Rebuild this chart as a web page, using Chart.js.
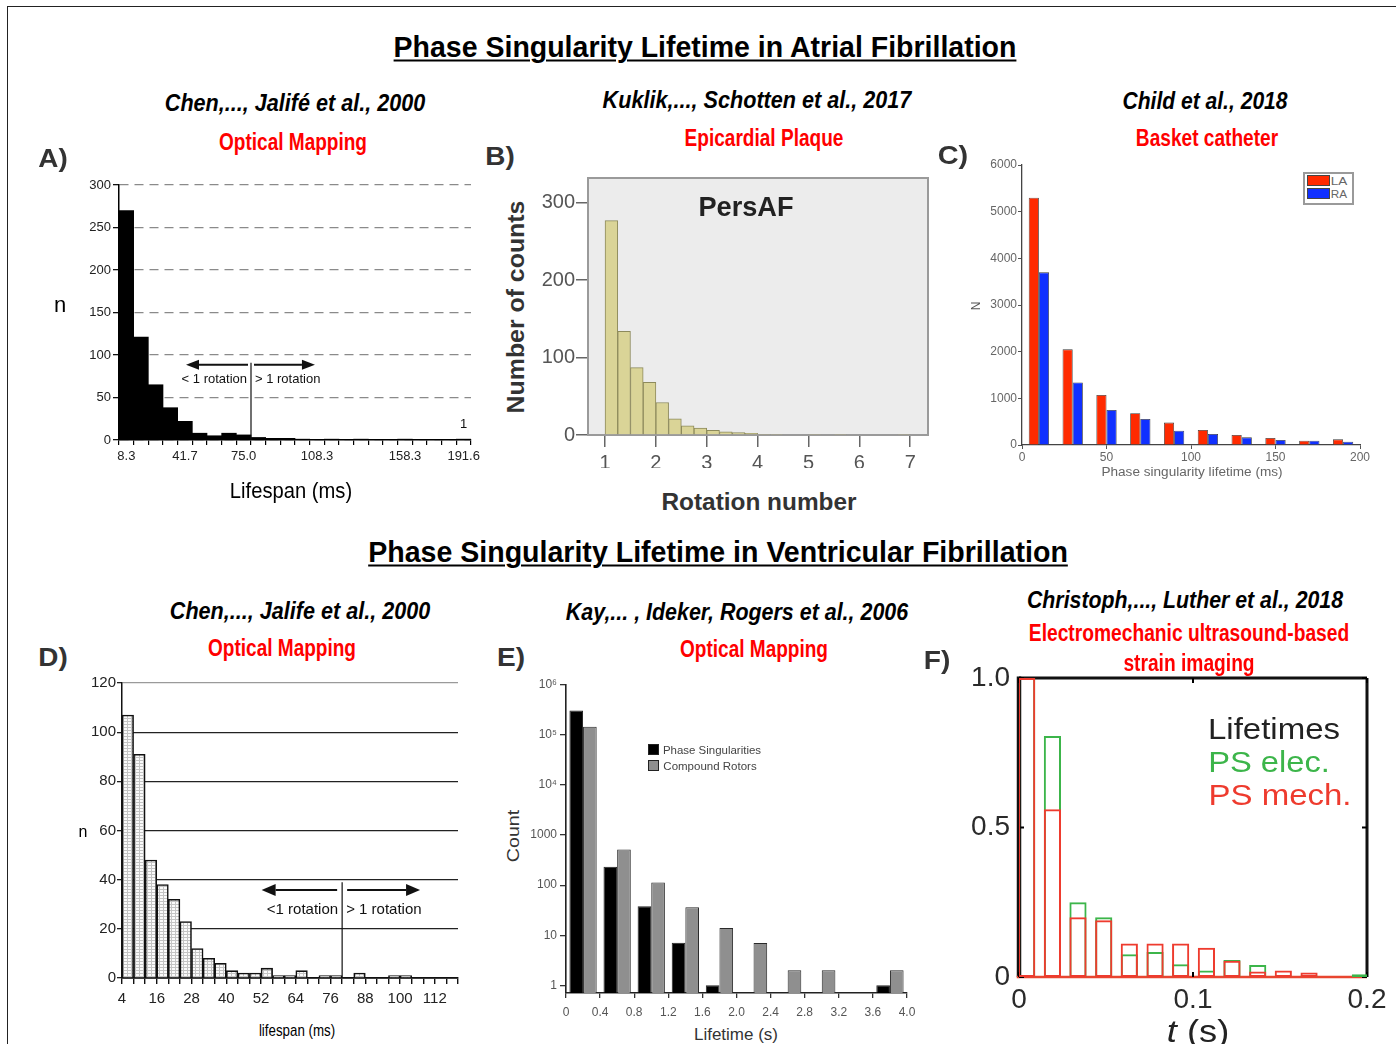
<!DOCTYPE html>
<html>
<head>
<meta charset="utf-8">
<script src="https://cdn.jsdelivr.net/npm/chart.js@4.4.1/dist/chart.umd.min.js"></script>
<style>
  body { margin: 0; width: 1396px; height: 1044px; position: relative; overflow: hidden; background: #fff; }
  .frame { position: absolute; left: 7px; top: 6px; width: 1400px; height: 1100px; border-left: 1.5px solid #222; border-top: 1.5px solid #222; }
  .box { position: absolute; }
  .t { position: absolute; white-space: nowrap; line-height: 1; }
  .sw { position: absolute; }
</style>
</head>
<body>
<div class="frame"></div>
<script>
const NARROW = '"Liberation Sans Narrow","Arial Narrow","Liberation Sans",Arial,sans-serif';
const SANS = '"Liberation Sans",Arial,Helvetica,sans-serif';

// A) Chen et al. 2000, atrial, lifespan bins
const aTickLabels = ['8.3', '', '', '', '41.7', '', '', '', '75.0', '', '', '', '', '108.3', '', '', '', '', '', '158.3', '', '', '', '191.6'];
const aCounts = [270, 121, 65, 38, 22, 8, 5, 8, 6, 3, 2, 2, 1, 0, 1, 0, 1, 0, 0, 1, 0, 0, 0, 1];

// B) Kuklik et al. 2017, PersAF, rotation number bins
const bCenters = [1.125, 1.375, 1.625, 1.875, 2.125, 2.375, 2.625, 2.875, 3.125, 3.375, 3.625, 3.875,
                  4.125, 4.375, 4.625, 4.875, 5.125, 5.375, 5.625, 5.875, 6.125, 6.375, 6.625, 6.875];
const bCounts = [277, 134, 87, 68, 42, 21, 12, 9, 6, 4, 3, 2, 1, 1, 0, 0, 1, 0, 1, 0, 0, 0, 0, 1];
const bTicksX = [1, 2, 3, 4, 5, 6, 7];
const bTicksY = [0, 100, 200, 300];

// C) Child et al. 2018, basket catheter
const cCenters = [10, 30, 50, 70, 90, 110, 130, 150, 170, 190];
const cLA = [5300, 2050, 1070, 680, 480, 320, 214, 150, 93, 121];
const cRA = [3700, 1340, 750, 557, 307, 236, 164, 107, 90, 71];

// D) Chen et al. 2000, ventricular, 4 ms bins
const dCenters = [6, 10, 14, 18, 22, 26, 30, 34, 38, 42, 46, 50, 54, 58, 62, 66, 70, 74, 78, 82,
                  86, 90, 94, 98, 102, 106, 110, 114, 118];
const dCounts = [107, 91, 48, 38, 32, 23, 12, 8, 6, 3, 2, 2, 4, 1, 1, 3, 0, 1, 1, 0, 2, 0, 0, 1, 1, 0, 0, 0, 0];
const dEdges = [4, 8, 12, 16, 20, 24, 28, 32, 36, 40, 44, 48, 52, 56, 60, 64, 68, 72, 76, 80,
                84, 88, 92, 96, 100, 104, 108, 112, 116, 120];
const dTickLabels = [4, 16, 28, 40, 52, 64, 76, 88, 100, 112];

// E) Kay et al. 2006, log counts
const eCenters = [0.2, 0.6, 1.0, 1.4, 1.8, 2.2, 2.6, 3.0, 3.4, 3.8];
const ePS = [310000, 233, 38, 7.1, 1, null, null, null, null, 1];
const eCR = [147000, 516, 113, 36, 14, 7, 2, 2, null, 2];
const eTicksX = [0, 0.4, 0.8, 1.2, 1.6, 2.0, 2.4, 2.8, 3.2, 3.6, 4.0];
const eTicksY = [1, 10, 100, 1000, 1e4, 1e5, 1e6];
const eTickLabelsY = ['1', '10', '100', '1000', '10⁴', '10⁵', '10⁶'];

// F) Christoph et al. 2018, normalised lifetimes
const fCenters = [0.0044, 0.0192, 0.0339, 0.0487, 0.0634, 0.0782, 0.0929, 0.1077, 0.1224, 0.1372, 0.1519, 0.1667, 0.1814, 0.1962];
const fMech = [1.0, 0.561, 0.2, 0.19, 0.112, 0.112, 0.112, 0.098, 0.054, 0.018, 0.022, 0.015, 0, 0];
const fElec = [1.0, 0.806, 0.25, 0.2, 0.076, 0.084, 0.043, 0.022, 0.057, 0.04, 0.005, 0.005, 0, 0.009];
const fTicksX = [0, 0.1, 0.2];
const fTicksY = [0, 0.5, 1];

Chart.defaults.animation = false;
Chart.defaults.responsive = true;
Chart.defaults.maintainAspectRatio = false;
Chart.defaults.plugins.legend.display = false;
Chart.defaults.plugins.tooltip.enabled = false;

// fixed axis sizes so the plot areas land where they should
const yFit = w => s => { s.width = w; s.paddingTop = 0; s.paddingBottom = 0; };
const xFit = h => s => { s.height = h; s.paddingLeft = 0; s.paddingRight = 0; };
const setTicks = list => s => { s.ticks = list.map(v => ({ value: v })); };

function panel(left, top, width, height) {
    const div = document.createElement('div');
    div.className = 'box';
    div.style.cssText = `left:${left}px;top:${top}px;width:${width}px;height:${height}px;`;
    const cv = document.createElement('canvas');
    div.appendChild(cv);
    document.body.appendChild(div);
    return cv;
}

// text helper: centred at (cx, cy), squeezed/stretched to width w
const fitList = [];
function label(html, cx, cy, w, size, o = {}) {
    const el = document.createElement('div');
    el.className = 't';
    el.innerHTML = html;
    el.style.fontSize = size + 'px';
    el.style.fontFamily = o.font || NARROW;
    el.style.fontWeight = o.bold ? 'bold' : 'normal';
    el.style.fontStyle = o.italic ? 'italic' : 'normal';
    el.style.color = o.color || '#000';
    if (o.underline) {
        el.style.textDecoration = 'underline';
        el.style.textDecorationThickness = '2px';
        el.style.textUnderlineOffset = '3px';
    }
    el.style.left = cx + 'px';
    el.style.top = cy + 'px';
    document.body.appendChild(el);
    fitList.push({ el, w, rot: o.rot || 0 });
    return el;
}

function fitAll() {
    fitList.forEach(({ el, w, rot }) => {
        const s = w ? w / el.offsetWidth : 1;
        el.style.transform = `translate(-50%,-50%) rotate(${rot}deg) scaleX(${s})`;
    });
}

// arrows + "< 1 rotation" marks used in A and D
const rotationMarks = {
    id: 'rotationMarks',
    afterDatasetsDraw(chart, args, o) {
        if (o.at === undefined) return;
        const { ctx, scales: { x, y } } = chart;
        const lx = x.getPixelForValue(o.at);
        const ay = y.getPixelForValue(o.arrowY);
        ctx.save();
        ctx.strokeStyle = '#111';
        ctx.fillStyle = '#111';
        ctx.lineWidth = 1.2;
        ctx.beginPath();
        ctx.moveTo(lx, y.getPixelForValue(0));
        ctx.lineTo(lx, y.getPixelForValue(o.top));
        ctx.stroke();
        ctx.lineWidth = o.shaft;
        const arrow = (x1, x2) => {
            const dir = Math.sign(x2 - x1);
            ctx.beginPath();
            ctx.moveTo(x1, ay);
            ctx.lineTo(x2 - dir * o.head[0], ay);
            ctx.stroke();
            ctx.beginPath();
            ctx.moveTo(x2, ay);
            ctx.lineTo(x2 - dir * o.head[0], ay - o.head[1]);
            ctx.lineTo(x2 - dir * o.head[0], ay + o.head[1]);
            ctx.closePath();
            ctx.fill();
        };
        arrow(lx - o.gap, x.getPixelForValue(o.from));
        arrow(lx + o.gap, x.getPixelForValue(o.to));
        ctx.font = o.font;
        ctx.textBaseline = 'middle';
        const ty = y.getPixelForValue(o.textY);
        ctx.textAlign = 'right';
        ctx.fillText(o.left, lx - 4, ty);
        ctx.textAlign = 'left';
        ctx.fillText(o.right, lx + 4, ty);
        if (o.note) {
            ctx.textAlign = 'center';
            ctx.fillText(o.note.text, x.getPixelForValue(o.note.x), y.getPixelForValue(o.note.y));
        }
        ctx.restore();
    }
};

// plot-area background / frame used in B and F (frame goes under the bars)
const plotBox = {
    id: 'plotBox',
    beforeDraw(chart, args, o) {
        if (!o.fill) return;
        const { ctx, chartArea: a } = chart;
        ctx.save();
        ctx.fillStyle = o.fill;
        ctx.fillRect(a.left, a.top, a.width, a.height);
        ctx.restore();
    },
    beforeDatasetsDraw(chart, args, o) {
        if (!o.color) return;
        const { ctx, chartArea: a, scales: { x, y } } = chart;
        ctx.save();
        ctx.strokeStyle = o.color;
        if (o.sides) {
            const [l, t, r, b] = o.sides;
            ctx.lineWidth = t; ctx.beginPath(); ctx.moveTo(a.left, a.top); ctx.lineTo(a.right, a.top); ctx.stroke();
            ctx.lineWidth = r; ctx.beginPath(); ctx.moveTo(a.right, a.top); ctx.lineTo(a.right, a.bottom); ctx.stroke();
            ctx.lineWidth = l; ctx.beginPath(); ctx.moveTo(a.left, a.top - t / 2); ctx.lineTo(a.left, a.bottom); ctx.stroke();
            ctx.strokeStyle = o.bottomColor || o.color;
            ctx.lineWidth = b; ctx.beginPath(); ctx.moveTo(a.left - l / 2, a.bottom); ctx.lineTo(a.right, a.bottom); ctx.stroke();
        } else {
            ctx.lineWidth = o.width;
            ctx.strokeRect(a.left, a.top, a.width, a.height);
        }
        if (o.innerTick) {
            ctx.strokeStyle = '#000';
            ctx.lineWidth = 2;
            x.ticks.forEach(t => {
                const px = x.getPixelForValue(t.value);
                ctx.beginPath(); ctx.moveTo(px, a.top); ctx.lineTo(px, a.top + o.innerTick); ctx.stroke();
                ctx.beginPath(); ctx.moveTo(px, a.bottom); ctx.lineTo(px, a.bottom - o.innerTick); ctx.stroke();
            });
            y.ticks.forEach(t => {
                const py = y.getPixelForValue(t.value);
                ctx.beginPath(); ctx.moveTo(a.left, py); ctx.lineTo(a.left + o.innerTick, py); ctx.stroke();
                ctx.beginPath(); ctx.moveTo(a.right, py); ctx.lineTo(a.right - o.innerTick, py); ctx.stroke();
            });
        }
        ctx.restore();
    }
};

// ---------- A ----------
new Chart(panel(64, 170, 432, 310), {
    type: 'bar',
    data: {
        labels: aTickLabels,
        datasets: [{ data: aCounts, backgroundColor: '#000', borderWidth: 0, barPercentage: 1, categoryPercentage: 1 }]
    },
    options: {
        layout: { padding: { top: 15, right: 25, left: 0, bottom: 0 } },
        scales: {
            x: {
                afterFit: xFit(40),
                grid: { offset: true, drawOnChartArea: false, tickLength: 5, color: '#000', lineWidth: 1.2 },
                border: { color: '#000', width: 1.5 },
                ticks: { autoSkip: false, maxRotation: 0, padding: 4, color: '#222', font: { family: NARROW, size: 13 } }
            },
            y: {
                min: 0, max: 300,
                afterFit: yFit(55),
                ticks: { stepSize: 50, padding: 2, color: '#222', font: { family: NARROW, size: 13 } },
                grid: { color: '#8a8a8a', lineWidth: 1.3, tickLength: 6, tickColor: '#111' },
                border: { color: '#000', width: 1.5, dash: [9, 6] }
            }
        },
        plugins: {
            rotationMarks: {
                at: 8.5, top: 91, arrowY: 88.5, from: 4.07, to: 12.86, textY: 71,
                left: '< 1 rotation', right: '> 1 rotation', font: '13px ' + NARROW,
                head: [13, 5], gap: 3, shaft: 2, note: { text: '1', x: 23, y: 18 }
            }
        }
    },
    plugins: [rotationMarks]
});

// ---------- B ----------
new Chart(panel(530, 168, 412, 300), {
    type: 'bar',
    data: {
        datasets: [{
            data: bCenters.map((x, i) => ({ x, y: bCounts[i] })),
            backgroundColor: '#dad497', borderColor: '#8d8a5c', borderWidth: 1,
            barPercentage: 1, categoryPercentage: 1
        }]
    },
    options: {
        layout: { padding: { top: 10, right: 14, left: 0, bottom: 0 } },
        scales: {
            x: {
                type: 'linear', min: 0.665, max: 7.35, offset: false,
                afterFit: xFit(33), afterBuildTicks: setTicks(bTicksX),
                grid: { offset: false, drawOnChartArea: false, tickLength: 12, color: '#666', lineWidth: 1.5 },
                border: { display: false },
                ticks: { padding: 4, color: '#555', font: { family: SANS, size: 20 } }
            },
            y: {
                min: 0, max: 332,
                afterFit: yFit(58), afterBuildTicks: setTicks(bTicksY),
                grid: { drawOnChartArea: false, tickLength: 12, color: '#666', lineWidth: 1.5 },
                border: { display: false },
                ticks: { padding: 1, color: '#555', font: { family: SANS, size: 20 } }
            }
        },
        plugins: { plotBox: { fill: '#ececec', color: '#9a9a9a', width: 2 } }
    },
    plugins: [plotBox]
});

// ---------- C ----------
new Chart(panel(980, 152, 395, 318), {
    type: 'bar',
    data: {
        datasets: [
            { label: 'LA', data: cCenters.map((x, i) => ({ x, y: cLA[i] })), backgroundColor: '#ff2a00', borderColor: '#3a3a3a', borderWidth: 0.8 },
            { label: 'RA', data: cCenters.map((x, i) => ({ x, y: cRA[i] })), backgroundColor: '#1030ff', borderColor: '#3a3a3a', borderWidth: 0.8 }
        ]
    },
    options: {
        datasets: { bar: { categoryPercentage: 0.6, barPercentage: 1 } },
        layout: { padding: { top: 13, right: 15, left: 0, bottom: 0 } },
        scales: {
            x: {
                type: 'linear', min: 0, max: 200, offset: false,
                afterFit: xFit(25),
                grid: { offset: false, drawOnChartArea: false, tickLength: 4, color: '#555' },
                border: { color: '#444', width: 1.3 },
                ticks: { stepSize: 50, padding: 1, color: '#666', font: { family: SANS, size: 12 } }
            },
            y: {
                min: 0, max: 6000,
                afterFit: yFit(42),
                grid: { drawOnChartArea: false, tickLength: 4, color: '#555' },
                border: { color: '#444', width: 1.3 },
                ticks: { stepSize: 1000, padding: 1, color: '#666', font: { family: SANS, size: 12 }, callback: v => String(v) }
            }
        }
    }
});

// ---------- D ----------
const dPattern = (() => {
    const c = document.createElement('canvas');
    c.width = 4; c.height = 3;
    const g = c.getContext('2d');
    g.fillStyle = '#fafafa'; g.fillRect(0, 0, 4, 3);
    g.fillStyle = '#c4c4c4'; g.fillRect(0, 0, 4, 1); g.fillRect(0, 0, 1, 3);
    return g.createPattern(c, 'repeat');
})();

new Chart(panel(75, 670, 400, 345), {
    type: 'bar',
    data: {
        datasets: [{
            data: dCenters.map((x, i) => ({ x, y: dCounts[i] })),
            backgroundColor: dPattern, borderColor: '#111', borderWidth: 1.6,
            barPercentage: 1, categoryPercentage: 1
        }]
    },
    options: {
        layout: { padding: { top: 13, right: 17, left: 0, bottom: 0 } },
        scales: {
            x: {
                type: 'linear', min: 4, max: 120, offset: false,
                afterFit: xFit(37), afterBuildTicks: setTicks(dEdges),
                grid: { offset: false, drawOnChartArea: false, tickLength: 6, color: '#111', lineWidth: 1.4 },
                border: { color: '#111', width: 1.8 },
                ticks: {
                    autoSkip: false, maxRotation: 0, padding: 6, color: '#222', font: { family: NARROW, size: 15 },
                    callback: v => dTickLabels.includes(v) ? String(v) : ''
                }
            },
            y: {
                min: 0, max: 120,
                afterFit: yFit(47),
                grid: {
                    tickLength: 5, lineWidth: 1.3,
                    color: c => c.tick && c.tick.value === 120 ? '#9a9a9a' : '#222',
                    tickColor: '#222'
                },
                border: { color: '#111', width: 1.5 },
                ticks: { stepSize: 20, padding: 1, color: '#222', font: { family: NARROW, size: 15 } }
            }
        },
        plugins: {
            rotationMarks: {
                at: 80, top: 39, arrowY: 35.8, from: 52.2, to: 106.9, textY: 27.7,
                left: '<1 rotation', right: '> 1 rotation', font: '15px ' + NARROW,
                head: [14, 6], gap: 5, shaft: 2.2
            }
        }
    },
    plugins: [rotationMarks]
});

// ---------- E ----------
new Chart(panel(525, 672, 400, 348), {
    type: 'bar',
    data: {
        datasets: [
            { label: 'Phase Singularities', data: eCenters.map((x, i) => ({ x, y: ePS[i] })), backgroundColor: '#000', borderColor: '#222', borderWidth: 1 },
            { label: 'Compound Rotors', data: eCenters.map((x, i) => ({ x, y: eCR[i] })), backgroundColor: '#8f8f8f', borderColor: '#2a2a2a', borderWidth: 1 }
        ]
    },
    options: {
        datasets: { bar: { categoryPercentage: 0.8, barPercentage: 1 } },
        layout: { padding: { top: 13, right: 18, left: 0, bottom: 0 } },
        scales: {
            x: {
                type: 'linear', min: 0, max: 4, offset: false,
                afterFit: xFit(27), afterBuildTicks: setTicks(eTicksX),
                grid: { offset: false, drawOnChartArea: false, tickLength: 5, color: '#333', lineWidth: 1.3 },
                border: { color: '#222', width: 1.6 },
                ticks: {
                    autoSkip: false, maxRotation: 0, padding: 7, color: '#555', font: { family: SANS, size: 12 },
                    callback: v => v === 0 ? '0' : v.toFixed(1)
                }
            },
            y: {
                type: 'logarithmic', min: 0.7, max: 1e6,
                afterFit: yFit(41), afterBuildTicks: setTicks(eTicksY),
                grid: { drawOnChartArea: false, tickLength: 6, color: '#333', lineWidth: 1.3 },
                border: { color: '#222', width: 1.6 },
                ticks: {
                    padding: 3, color: '#555', font: { family: SANS, size: 12 },
                    callback: (v, i) => eTickLabelsY[i]
                }
            }
        }
    }
});

// ---------- F ----------
new Chart(panel(950, 662, 440, 370), {
    type: 'bar',
    data: {
        datasets: [
            { label: 'PS mech.', data: fCenters.map((x, i) => ({ x, y: fMech[i] })), borderColor: '#ee3b2e' },
            { label: 'PS elec.', data: fCenters.map((x, i) => ({ x, y: fElec[i] })), borderColor: '#3cb54a' }
        ]
    },
    options: {
        datasets: { bar: { grouped: false, barPercentage: 0.84, backgroundColor: 'rgba(0,0,0,0)', borderWidth: 2, borderSkipped: false } },
        layout: { padding: { top: 16, right: 23, left: 0, bottom: 0 } },
        scales: {
            x: {
                type: 'linear', min: 0, max: 0.2, offset: false,
                afterFit: xFit(55), afterBuildTicks: setTicks(fTicksX),
                grid: { display: false, drawTicks: false, offset: false },
                border: { display: false },
                ticks: { padding: 6, color: '#2a2a2a', font: { family: SANS, size: 28 }, callback: v => v === 0 ? '0' : String(v) }
            },
            y: {
                min: 0, max: 1,
                afterFit: yFit(69), afterBuildTicks: setTicks(fTicksY),
                grid: { display: false, drawTicks: false },
                border: { display: false },
                ticks: { padding: 9, color: '#2a2a2a', font: { family: SANS, size: 28 }, callback: v => v === 0 ? '0' : v.toFixed(1) }
            }
        },
        plugins: { plotBox: { color: '#111', sides: [4.5, 3, 3, 2.5], bottomColor: '#e8452f', innerTick: 5 } }
    },
    plugins: [plotBox]
});

// ---------- titles and labels ----------
label('Phase Singularity Lifetime in Atrial Fibrillation', 704.5, 47, 623, 29, { bold: true, underline: true });
label('Phase Singularity Lifetime in Ventricular Fibrillation', 718, 552, 700, 29, { bold: true, underline: true });

label('Chen,..., Jalifé et al., 2000', 295, 103, 260, 24, { bold: true, italic: true });
label('Optical Mapping', 293, 142, 148, 23, { bold: true, color: '#f00' });
label('Kuklik,..., Schotten et al., 2017', 756.5, 100, 309, 24, { bold: true, italic: true });
label('Epicardial Plaque', 763.5, 138, 159, 23, { bold: true, color: '#f00' });
label('Child et al., 2018', 1204.5, 101, 165, 24, { bold: true, italic: true });
label('Basket catheter', 1207, 138, 142, 23, { bold: true, color: '#f00' });

label('Chen,..., Jalife et al., 2000', 300, 611, 260, 24, { bold: true, italic: true });
label('Optical Mapping', 282, 648, 148, 23, { bold: true, color: '#f00' });
label('Kay,... , Ideker, Rogers et al., 2006', 737, 612, 342, 24, { bold: true, italic: true });
label('Optical Mapping', 754, 649, 148, 23, { bold: true, color: '#f00' });
label('Christoph,..., Luther et al., 2018', 1185, 600, 316, 24, { bold: true, italic: true });
label('Electromechanic ultrasound-based', 1189, 633, 320, 23, { bold: true, color: '#f00' });
label('strain imaging', 1188.5, 663, 131, 23, { bold: true, color: '#f00' });

const letterStyle = { bold: true, font: SANS, color: '#333' };
label('A)', 52.5, 158, 29, 25, letterStyle);
label('B)', 499.5, 156, 29, 25, letterStyle);
label('C)', 953, 155, 30, 25, letterStyle);
label('D)', 52.5, 657, 29, 25, letterStyle);
label('E)', 511, 657, 28, 25, letterStyle);
label('F)', 936.5, 660, 27, 25, letterStyle);

// axis titles
label('n', 60, 305, 0, 22);
label('Lifespan (ms)', 291, 491, 122, 22);
label('Number of counts', 516, 307, 213, 23, { bold: true, font: SANS, color: '#333', rot: -90 });
label('Rotation number', 758.5, 502, 195, 23, { bold: true, font: SANS, color: '#333' });
label('PersAF', 745.5, 207, 95, 28, { bold: true, font: SANS, color: '#222' });
label('N', 976, 306, 0, 12, { font: SANS, color: '#555', rot: -90 });
label('Phase singularity lifetime (ms)', 1191.5, 472, 181, 12, { font: SANS, color: '#666' });
label('n', 83, 832, 0, 16);
label('lifespan (ms)', 297, 1030, 76, 17);
label('Count', 513, 836, 52, 17, { font: SANS, color: '#333', rot: -90 });
label('Lifetime (s)', 736, 1034, 84, 17, { font: SANS, color: '#333' });
label('<i>t</i> (s)', 1198, 1031, 62, 31, { font: SANS, color: '#222' });

// legends
label('Lifetimes', 1274, 729, 132, 30, { font: SANS, color: '#222' });
label('PS elec.', 1269, 762, 122, 30, { font: SANS, color: '#3cb54a' });
label('PS mech.', 1279.5, 795, 143, 30, { font: SANS, color: '#ee3b2e' });

function swatch(l, t, w, h, bg, border) {
    const s = document.createElement('div');
    s.className = 'sw';
    s.style.cssText = `left:${l}px;top:${t}px;width:${w}px;height:${h}px;background:${bg};border:${border};box-sizing:border-box;`;
    document.body.appendChild(s);
}
swatch(1303, 172, 51, 33, '#fff', '2px solid #9a9a9a');
swatch(1307, 175, 23, 11, '#ff2a00', '1px solid #444');
swatch(1307, 188, 23, 11, '#1030ff', '1px solid #444');
label('LA', 1339, 181, 16, 11, { font: SANS, color: '#666' });
label('RA', 1339, 194, 16, 11, { font: SANS, color: '#666' });

swatch(648, 744, 11, 11, '#000', '1px solid #222');
swatch(648, 760, 11, 11, '#8f8f8f', '1px solid #222');
label('Phase Singularities', 712, 750, 98, 11, { font: SANS, color: '#444' });
label('Compound Rotors', 709.5, 766, 93, 11, { font: SANS, color: '#444' });

fitAll();
</script>
</body>
</html>
